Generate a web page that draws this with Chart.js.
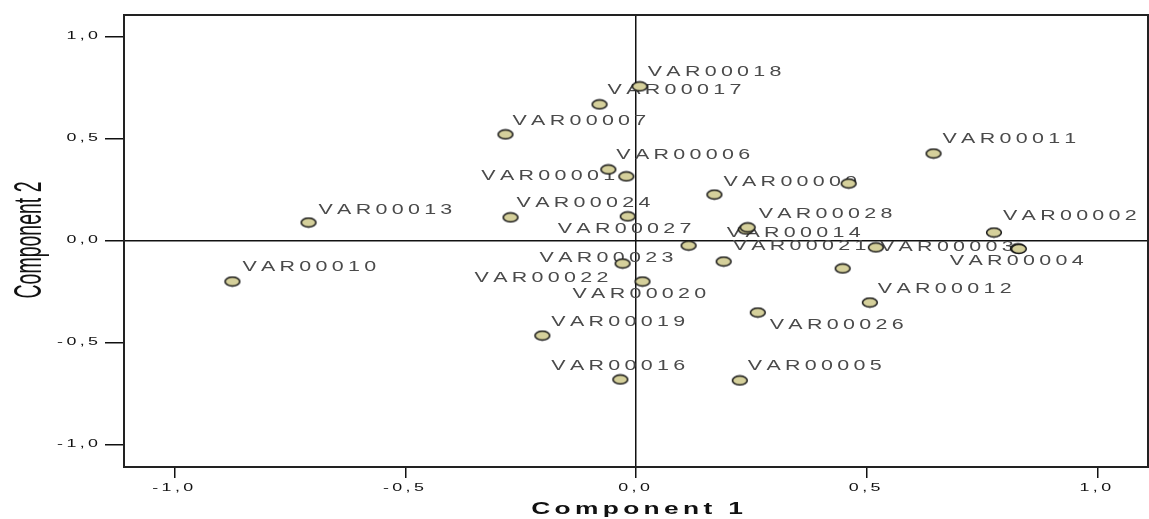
<!DOCTYPE html>
<html>
<head>
<meta charset="utf-8">
<script src="https://cdn.jsdelivr.net/npm/chart.js@4/dist/chart.umd.min.js"></script>
<style>
    body { margin: 0; background: #fff; }
    .chart-box { width: 1149px; height: 519px; position: relative; }
</style>
</head>
<body>
<div class="chart-box"><canvas id="component_plot"></canvas></div>
<script>
// component loadings
var varNames = ['VAR00001', 'VAR00002', 'VAR00003', 'VAR00004', 'VAR00005', 'VAR00006', 'VAR00007',
    'VAR00008', 'VAR00009', 'VAR00010', 'VAR00011', 'VAR00012', 'VAR00013', 'VAR00014',
    'VAR00015', 'VAR00016', 'VAR00017', 'VAR00018', 'VAR00019', 'VAR00020', 'VAR00021',
    'VAR00022', 'VAR00023', 'VAR00024', 'VAR00025', 'VAR00026', 'VAR00027', 'VAR00028'];
var component1 = [-0.021, 0.776, 0.828, 0.830, 0.225, -0.060, -0.283,
    0.238, 0.170, -0.875, 0.645, 0.507, -0.710, 0.520,
    0.461, -0.034, -0.079, 0.008, -0.203, 0.014, 0.190,
    -0.029, 0.114, -0.272, 0.448, 0.264, -0.018, 0.242];
var component2 = [0.314, 0.039, -0.039, -0.041, -0.686, 0.348, 0.520,
    0.054, 0.225, -0.201, 0.426, -0.304, 0.088, -0.034,
    0.279, -0.681, 0.667, 0.755, -0.466, -0.201, -0.103,
    -0.113, -0.025, 0.113, -0.137, -0.353, 0.118, 0.064];
var axisTicks = [-1.0, -0.5, 0.0, 0.5, 1.0];
var xTitle = 'Component 1';
var yTitle = 'Component 2';

// where each name sits next to its point (px, left edge / middle), null = hidden by overlap
var labelPlace = [[-145, -1], [9, -17], [-138, -2], [-69, 12], [8, -15], [8, -15], [7, -14],
    null, [9, -13], [10, -15], [9, -15], [8, -14], [10, -13], [-149, -15],
    null, [-69, -14], [8, -15], [8, -15], [9, -14], [-70, 12], [9, -16],
    [-148, 14], [-149, 12], [6, -15], null, [12, 12], [-70, 12], [11, -14]];

var fontFamily = '"Liberation Sans", Arial, sans-serif';

fmtTick = (v) => v.toFixed(1).replace('.', ',');

// stretched text with manual letter spacing
drawWide = (ctx, text, x, y, opt) => {
    ctx.save();
    ctx.font = opt.font;
    ctx.fillStyle = opt.color || '#222';
    ctx.textBaseline = opt.baseline || 'middle';
    ctx.textAlign = 'left';
    let ls = opt.ls || 0;
    let chars = text.split('');
    let w = 0;
    chars.map(function (ch) { w += ctx.measureText(ch).width + ls; });
    w -= ls;
    ctx.translate(x, y);
    ctx.scale(opt.sx || 1, 1);
    let pos = 0;
    if (opt.align == 'right') pos = -w;
    if (opt.align == 'center') pos = -w / 2;
    chars.map(function (ch) {
        ctx.fillText(ch, pos, 0);
        pos += ctx.measureText(ch).width + ls;
    });
    ctx.restore();
};

makeMarker = () => {
    let c = document.createElement('canvas');
    c.width = 18;
    c.height = 12;
    let g = c.getContext('2d');
    g.beginPath();
    g.ellipse(9, 6, 7.4, 4.4, 0, 0, Math.PI * 2);
    g.fillStyle = '#d5d09b';
    g.fill();
    g.lineWidth = 1.5;
    g.strokeStyle = '#141414';
    g.stroke();
    return c;
};

var plotText = {
    id: 'plotText',
    beforeDatasetsDraw: function (chart) {
        const ctx = chart.ctx;
        const xs = chart.scales.x;
        const ys = chart.scales.y;
        const area = chart.chartArea;

        // frame
        ctx.save();
        ctx.strokeStyle = '#222';
        ctx.lineWidth = 2;
        ctx.strokeRect(area.left, area.top, area.right - area.left, area.bottom - area.top);
        ctx.restore();

        // names of the variables
        varNames.map(function (name, i) {
            if (!labelPlace[i]) return;
            let px = xs.getPixelForValue(component1[i]);
            let py = ys.getPixelForValue(component2[i]);
            drawWide(ctx, name, px + labelPlace[i][0], py + labelPlace[i][1], {
                font: '15px ' + fontFamily, sx: 1.43, ls: 3.0, color: '#4a4a4a'
            });
        });
    },
    afterDraw: function (chart) {
        const ctx = chart.ctx;
        const xs = chart.scales.x;
        const ys = chart.scales.y;
        const area = chart.chartArea;

        axisTicks.map(function (v) {
            drawWide(ctx, fmtTick(v), xs.getPixelForValue(v) - 2, area.bottom + 21, {
                font: '10.5px ' + fontFamily, sx: 1.7, ls: 2.0, align: 'center', color: '#111'
            });
            drawWide(ctx, fmtTick(v), area.left - 26, ys.getPixelForValue(v), {
                font: '10.5px ' + fontFamily, sx: 1.7, ls: 2.0, align: 'right', color: '#111'
            });
        });

        drawWide(ctx, xTitle, (area.left + area.right) / 2 + 1, 509, {
            font: 'bold 17px ' + fontFamily, sx: 1.55, ls: 2.8, align: 'center', color: '#111'
        });

        ctx.save();
        ctx.translate(41, (area.top + area.bottom) / 2 - 1);
        ctx.rotate(-Math.PI / 2);
        ctx.scale(0.5, 1);
        ctx.font = '39px ' + fontFamily;
        ctx.fillStyle = '#111';
        ctx.textAlign = 'center';
        ctx.textBaseline = 'alphabetic';
        ctx.fillText(yTitle, 0, 0);
        ctx.restore();
    }
};

zeroLine = (c) => (c.tick && c.tick.value == 0 ? '#111' : 'rgba(0,0,0,0)');

var points = varNames.map(function (name, i) {
    return { x: component1[i], y: component2[i] };
});

new Chart(document.getElementById('component_plot'), {
    type: 'scatter',
    data: {
        datasets: [{
            label: 'Loadings',
            data: points,
            pointStyle: makeMarker(),
            pointRadius: 6,
            pointHoverRadius: 6
        }]
    },
    options: {
        responsive: true,
        maintainAspectRatio: false,
        animation: false,
        layout: { autoPadding: false, padding: { left: 105, top: 15, right: 1, bottom: 41 } },
        plugins: {
            legend: { display: false },
            tooltip: { enabled: false }
        },
        scales: {
            x: {
                type: 'linear',
                min: -1.11,
                max: 1.11,
                border: { display: false },
                ticks: { stepSize: 0.5, includeBounds: false, display: false },
                grid: { color: zeroLine, lineWidth: 1.5, drawTicks: true, tickLength: 11, tickColor: '#111', tickWidth: 1.5 }
            },
            y: {
                type: 'linear',
                min: -1.11,
                max: 1.105,
                border: { display: false },
                ticks: { stepSize: 0.5, includeBounds: false, display: false },
                grid: { color: zeroLine, lineWidth: 1.5, drawTicks: true, tickLength: 19, tickColor: '#111', tickWidth: 1.5 }
            }
        }
    },
    plugins: [plotText]
});
</script>
</body>
</html>
